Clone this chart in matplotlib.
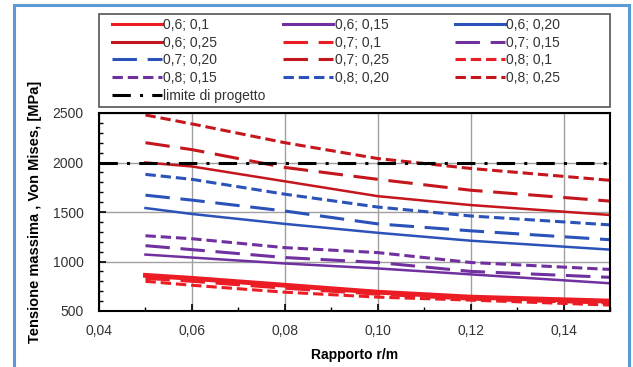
import matplotlib.pyplot as plt
from matplotlib.lines import Line2D
from matplotlib.patches import Rectangle
from matplotlib.ticker import MultipleLocator, FuncFormatter

# Rapporto r/m values and max Von Mises stress [MPa] per case
x_vals = [0.05, 0.06, 0.08, 0.10, 0.12, 0.15]

s_06_010 = [860, 830, 760, 690, 640, 600]
s_07_010 = [830, 800, 730, 670, 620, 580]
s_08_010 = [800, 760, 690, 640, 610, 560]
s_06_015 = [1070, 1040, 980, 930, 870, 780]
s_07_015 = [1160, 1120, 1040, 990, 900, 840]
s_08_015 = [1260, 1230, 1140, 1090, 990, 920]
s_06_020 = [1540, 1480, 1380, 1290, 1210, 1120]
s_07_020 = [1670, 1620, 1510, 1380, 1310, 1220]
s_08_020 = [1880, 1830, 1680, 1550, 1460, 1370]
s_06_025 = [2000, 1960, 1810, 1660, 1570, 1470]
s_07_025 = [2200, 2130, 1950, 1830, 1720, 1610]
s_08_025 = [2480, 2390, 2200, 2040, 1940, 1820]

limit_value = 2000
limit_x = [0.04, 0.15]

labels = ["0,6; 0,1", "0,6; 0,15", "0,6; 0,20", "0,6; 0,25",
          "0,7; 0,1", "0,7; 0,15", "0,7; 0,20", "0,7; 0,25",
          "0,8; 0,1", "0,8; 0,15", "0,8; 0,20", "0,8; 0,25"]
series = [s_06_010, s_06_015, s_06_020, s_06_025,
          s_07_010, s_07_015, s_07_020, s_07_025,
          s_08_010, s_08_015, s_08_020, s_08_025]

RED = "#ec1c24"
PURPLE = "#7030a0"
BLUE = "#2a52b8"
DARKRED = "#c4161c"
colors = [RED, PURPLE, BLUE, DARKRED] * 3
dash_styles = ["solid"] * 4 + [(0, (8, 3.5))] * 4 + [(0, (3.4, 1.6))] * 4
widths = [3.5, 1.8, 1.8, 1.8] + [2.2] * 4 + [2.2] * 4
limit_style = (0, (6, 3, 1, 3))

font = ["Liberation Sans", "DejaVu Sans"]
W, H = 633, 367

fig = plt.figure(figsize=(6.33, 3.67), dpi=100)
fig.patch.set_facecolor("white")

# light blue frame around the figure
fig.add_artist(Rectangle((14 / W, -0.05), (629 - 14) / W, 1.05 - 5 / H,
                         transform=fig.transFigure, fill=False,
                         edgecolor="#5b9bd5", linewidth=2.2))

ax = fig.add_axes([99 / W, (H - 311) / H, (610 - 99) / W, (311 - 113) / H])

proxies = []
for lab, ys, col, ls, lw in zip(labels, series, colors, dash_styles, widths):
    ax.plot(x_vals, ys, color=col, linestyle=ls, linewidth=lw)
    proxies.append(Line2D([], [], color=col, linestyle=ls, linewidth=2.2, label=lab))

ax.plot(limit_x, [limit_value, limit_value], color="black",
        linestyle=limit_style, linewidth=2.2)
limit_proxy = Line2D([], [], color="black", linestyle=limit_style,
                     linewidth=2.2, label="limite di progetto")

ax.set_xlim(0.04, 0.15)
ax.set_ylim(500, 2500)
ax.xaxis.set_major_locator(MultipleLocator(0.02))
ax.xaxis.set_minor_locator(MultipleLocator(0.01))
ax.yaxis.set_major_locator(MultipleLocator(500))
ax.yaxis.set_minor_locator(MultipleLocator(100))
ax.xaxis.set_major_formatter(FuncFormatter(lambda v, p: f"{v:.2f}".replace(".", ",")))
ax.grid(True, which="major", color="#a0a0a0", linewidth=1.0)
ax.tick_params(which="both", direction="in", top=False, right=False, colors="black",
               labelsize=10)
ax.tick_params(which="major", length=5, width=1.2)
ax.tick_params(which="minor", length=3, width=1.0)
ax.tick_params(axis="x", pad=9.5)
ax.tick_params(axis="y", pad=11)
for lbl in ax.get_xticklabels() + ax.get_yticklabels():
    lbl.set_family(font)
    lbl.set_color("#333333")
for sp in ax.spines.values():
    sp.set_linewidth(1.5)

ax.set_xlabel("Rapporto r/m", fontsize=10, fontweight="bold", family=font)
ax.set_ylabel("Tensione massima , Von Mises, [MPa]", fontsize=10.5, fontweight="bold",
              family=font)
ax.xaxis.set_label_coords(0.5, -(355 - 311) / 198, transform=ax.transAxes)
ax.yaxis.set_label_coords(-(99 - 35) / 511, 0.5, transform=ax.transAxes)
ax.xaxis.label.set_verticalalignment("center")
ax.yaxis.label.set_verticalalignment("center")

# legend frame drawn separately, entries in two frameless legends
fig.add_artist(Rectangle((99 / W, 1 - 107 / H), (610 - 99) / W, (107 - 14) / H,
                         transform=fig.transFigure, fill=False,
                         edgecolor="#555555", linewidth=1.2))

# reference fills rows first, matplotlib fills columns first
order = [0, 3, 6, 9, 1, 4, 7, 10, 2, 5, 8, 11]
leg_kw = dict(frameon=False, prop={"family": font, "size": 10}, handlelength=3.6,
              handletextpad=0.1, labelspacing=0.26, borderpad=0, borderaxespad=0)
leg = fig.legend([proxies[i] for i in order], [proxies[i].get_label() for i in order],
                 ncol=3, loc="upper left", mode="expand",
                 bbox_to_anchor=(112 / W, 1 - 100 / H, (560 - 112) / W, (100 - 18) / H),
                 **leg_kw)
leg2 = fig.legend([limit_proxy], [limit_proxy.get_label()], loc="upper left",
                  bbox_to_anchor=(112 / W, 1 - 89 / H), **leg_kw)
for t in leg.get_texts() + leg2.get_texts():
    t.set_color("#333333")

fig.savefig("out.png", dpi=100)
